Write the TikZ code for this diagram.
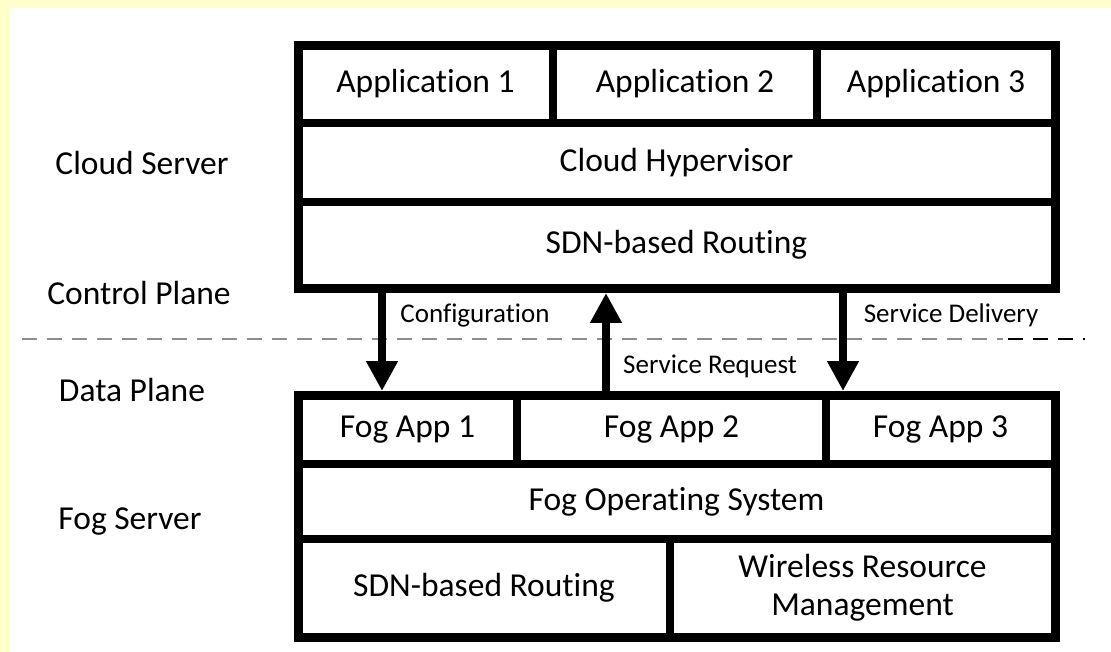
\documentclass[tikz,border=0pt]{standalone}
\usepackage{fontspec}
\setmainfont{Carlito}[Ligatures={NoCommon}]
\usetikzlibrary{arrows.meta,calc}
\definecolor{bgyellow}{HTML}{FFFFCC}
\definecolor{dashgray}{HTML}{8C8C8C}
\begin{document}
\begin{tikzpicture}[x=1pt,y=-1pt,
  cell/.style={draw=black,line width=8pt,inner sep=0pt,anchor=north west,
     font=\fontsize{33.5}{38}\selectfont,align=center},
  frame/.style={draw=black,line width=9pt,inner sep=0pt,anchor=north west},
  side/.style={font=\fontsize{33.5}{38}\selectfont,inner sep=0pt},
  lbl/.style={font=\fontsize{27}{32}\selectfont,inner sep=0pt},
  arr/.style={line width=8pt,-{Triangle[width=30pt,length=30pt]}},
  sep/.style={line width=2.5pt,dash pattern=on 15pt off 10pt}]
\useasboundingbox (0,0) rectangle (1111,652);
\fill[white] (0,0) rectangle (1111,652);
\fill[bgyellow] (0,0) rectangle (1111,8);
\fill[bgyellow] (0,0) rectangle (10,652);

% dashed separation line
\draw[sep,dashgray] (22,339) -- (1003,339);
\draw[sep,black] (1008,339) -- (1085,339);

% cloud server
\node[cell,minimum width=255pt,minimum height=78pt] (app1) at (294,41) {Application 1};
\node[cell,minimum width=264pt,minimum height=78pt] (app2) at (549,41) {Application 2};
\node[cell,minimum width=238pt,minimum height=78pt] (app3) at (813,41) {Application 3};
\node[cell,minimum width=757pt,minimum height=79pt] (hyp) at (294,119) {Cloud Hypervisor};
\node[cell,minimum width=757pt,minimum height=86pt] (sdn1) at (294,198) {SDN-based Routing};
\node[frame,minimum width=757pt,minimum height=243pt] (cloud) at (294,41) {};

% fog server
\node[cell,minimum width=219pt,minimum height=69pt] (fog1) at (294,391) {Fog App 1};
\node[cell,minimum width=309pt,minimum height=69pt] (fog2) at (513,391) {Fog App 2};
\node[cell,minimum width=229pt,minimum height=69pt] (fog3) at (822,391) {Fog App 3};
\node[cell,minimum width=757pt,minimum height=75pt] (fos) at (294,460) {Fog Operating System};
\node[cell,minimum width=372pt,minimum height=98pt] (sdn2) at (294,535) {SDN-based Routing};
\node[cell,minimum width=385pt,minimum height=98pt] (wrm) at (666,535) {Wireless Resource\\Management};
\node[frame,minimum width=757pt,minimum height=242pt] (fog) at (294,391) {};

% side labels
\node[side] (cs) at (142,163) {Cloud Server};
\node[side] (cp) at (139,293) {Control Plane};
\node[side] (dp) at (132,390) {Data Plane};
\node[side] (fs) at (130,522) {Fog Server};

% arrows
\coordinate (xa) at (382,0);
\coordinate (xb) at (606,0);
\coordinate (xc) at (843,0);
\draw[arr] (xa |- cloud.south) -- (xa |- fog.north);
\draw[arr] (xb |- fog.north) -- (xb |- cloud.south);
\draw[arr] (xc |- cloud.south) -- (xc |- fog.north);

\node[lbl] (l1) at (475,316) {Configuration};
\node[lbl] (l2) at (710,366) {Service Request};
\node[lbl] (l3) at (951,315) {Service Delivery};
\end{tikzpicture}
\end{document}
